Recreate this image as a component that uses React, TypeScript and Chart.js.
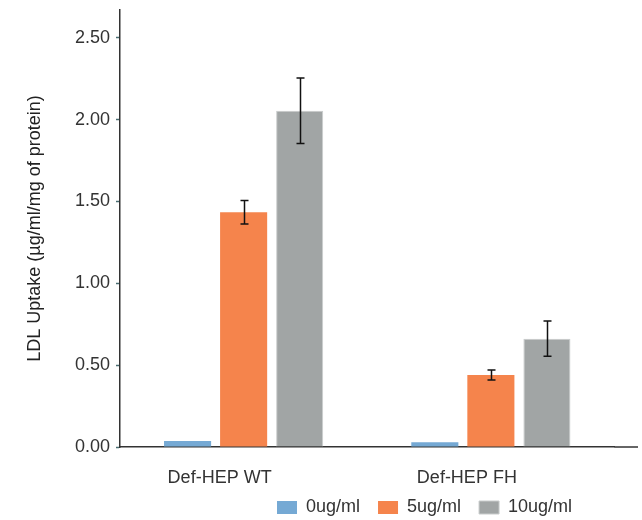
import React, { useEffect, useRef } from "react";
import { Chart, registerables } from "chart.js";

Chart.register(...registerables);

const categories = ["Def-HEP WT", "Def-HEP FH"];
const seriesNames = ["0ug/ml", "5ug/ml", "10ug/ml"];
const values0 = [0.037, 0.029];
const values5 = [1.434, 0.44];
const values10 = [2.055, 0.662];
const errors0 = [0, 0];
const errors5 = [0.072, 0.03];
const errors10 = [0.2, 0.108];
const yTickValues = [0, 0.5, 1, 1.5, 2, 2.5];

const seriesValues = [values0, values5, values10];
const seriesErrors = [errors0, errors5, errors10];
const seriesColors = ["#75a9d4", "#f5844c", "#a1a5a5"];
const seriesBorders = ["#75a9d4", "#f5844c", "#c9cccc"];

const FONT = "'Liberation Sans', Arial, sans-serif";

const errorBarPlugin = {
  id: "errorBars",
  afterDatasetsDraw(chart: any) {
    const ctx = chart.ctx;
    const yScale = chart.scales.y;
    ctx.save();
    ctx.strokeStyle = "#111";
    ctx.lineWidth = 1.5;
    chart.data.datasets.forEach((ds: any, i: number) => {
      const meta = chart.getDatasetMeta(i);
      const errs = seriesErrors[i];
      meta.data.forEach((bar: any, j: number) => {
        const e = errs[j];
        if (!e) return;
        const v = ds.data[j];
        const x = Math.round(bar.x) + 0.5;
        const yt = yScale.getPixelForValue(v + e);
        const yb = yScale.getPixelForValue(v - e);
        ctx.beginPath();
        ctx.moveTo(x, yt);
        ctx.lineTo(x, yb);
        ctx.moveTo(x - 4, yt);
        ctx.lineTo(x + 4, yt);
        ctx.moveTo(x - 4, yb);
        ctx.lineTo(x + 4, yb);
        ctx.stroke();
      });
    });
    ctx.restore();
  },
};

const layoutTweakPlugin = {
  id: "layoutTweak",
  afterLayout(chart: any) {
    const lg = chart.legend;
    if (lg) {
      const pad = lg.options.labels.padding;
      const w = lg.right - lg.left;
      lg.left = 277 - pad;
      lg.right = lg.left + w;
      lg.top = 480.5;
      lg.bottom = 520;
      lg.height = lg.bottom - lg.top;
    }
  },
  afterDraw(chart: any) {
    const ctx = chart.ctx;
    const a = chart.chartArea;
    ctx.save();
    ctx.strokeStyle = "#333";
    ctx.lineWidth = 1.5;
    ctx.beginPath();
    ctx.moveTo(a.right, a.bottom);
    ctx.lineTo(638, a.bottom);
    ctx.stroke();
    ctx.restore();
  },
};

export default function App() {
  const ref = useRef<HTMLCanvasElement>(null);
  useEffect(() => {
    if (!ref.current) return;
    const chart = new Chart(ref.current, {
      type: "bar",
      data: {
        labels: categories,
        datasets: seriesNames.map((name, i) => ({
          label: name,
          data: seriesValues[i],
          backgroundColor: seriesColors[i],
          borderColor: seriesBorders[i],
          borderWidth: i === 2 ? 1 : 0,
          barPercentage: 0.84,
          categoryPercentage: 0.68,
        })),
      },
      options: {
        responsive: false,
        animation: false,
        layout: { padding: { top: 10, right: 27.5, left: 0, bottom: -20 } },
        plugins: {
          tooltip: { enabled: false },
          legend: {
            position: "bottom",
            align: "start",
            maxHeight: 31.4,
            labels: {
              boxWidth: 20,
              boxHeight: 13,
              padding: 18,
              color: "#333",
              font: { family: FONT, size: 18 },
            },
          },
        },
        scales: {
          x: {
            grid: { display: false, drawTicks: false },
            border: { display: true, color: "#333", width: 1.5 },
            ticks: {
              color: "#333",
              font: { family: FONT, size: 18 },
              padding: 20,
              labelOffset: -24,
            },
          },
          y: {
            min: 0,
            max: 2.67,
            afterBuildTicks: (s: any) => {
              s.ticks = yTickValues.map((v) => ({ value: v }));
            },
            afterFit: (s: any) => {
              s.width = 120;
              s.paddingTop = 0;
              s.paddingBottom = 0;
            },
            grid: {
              drawOnChartArea: false,
              drawTicks: true,
              tickLength: 4,
              tickColor: "#4a6e72",
              tickWidth: 1.5,
            },
            border: { display: true, color: "#333", width: 1.5 },
            ticks: {
              color: "#333",
              font: { family: FONT, size: 18 },
              padding: 6,
              callback: (v: any) => Number(v).toFixed(2),
            },
            title: {
              display: true,
              text: "LDL Uptake (µg/ml/mg of protein)",
              color: "#222",
              font: { family: FONT, size: 18 },
              padding: { top: 24, bottom: 0 },
            },
          },
        },
      },
      plugins: [errorBarPlugin, layoutTweakPlugin],
    });
    return () => chart.destroy();
  }, []);
  return (
    <div style={{ position: "fixed", left: 0, top: 0, width: 642, height: 520, background: "#fff" }}>
      <canvas ref={ref} width={642} height={520} />
    </div>
  );
}
